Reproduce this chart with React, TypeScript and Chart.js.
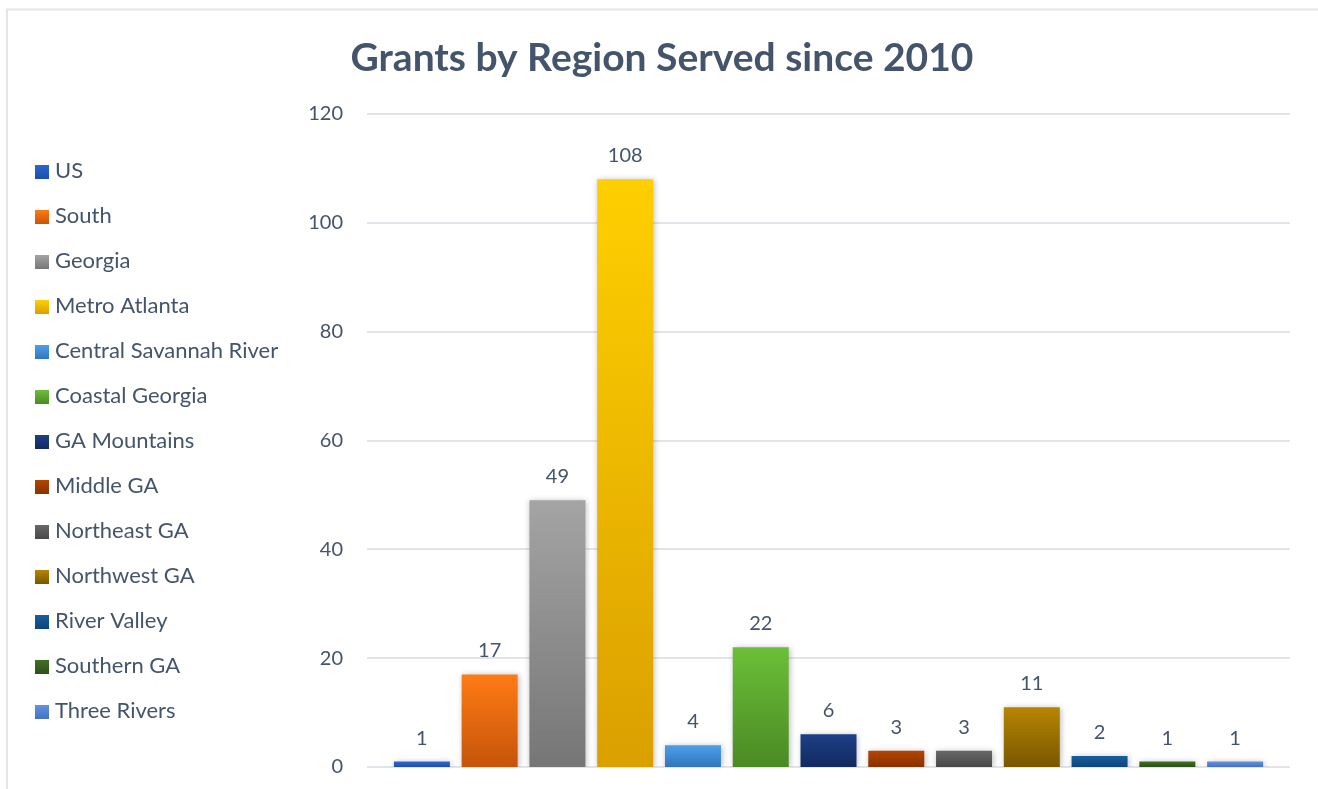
import React, { useEffect, useRef } from "react";
import { Chart, registerables } from "chart.js";

Chart.register(...registerables);

const title = "Grants by Region Served since 2010";
const categories = [
  "US",
  "South",
  "Georgia",
  "Metro Atlanta",
  "Central Savannah River",
  "Coastal Georgia",
  "GA Mountains",
  "Middle GA",
  "Northeast GA",
  "Northwest GA",
  "River Valley",
  "Southern GA",
  "Three Rivers",
];
const grants = [1, 17, 49, 108, 4, 22, 6, 3, 3, 11, 2, 1, 1];
const topColors = [
  "#2d66d2", "#ff7b14", "#a4a4a4", "#ffcf00", "#4aa0ea", "#6cbf38", "#1d4088",
  "#b54500", "#686868", "#b78500", "#175fa2", "#407026", "#6292e2",
];
const bottomColors = [
  "#1e4ea6", "#c6540b", "#767676", "#daa000", "#3475bb", "#4a8a25", "#12295e",
  "#883100", "#484848", "#785700", "#0e4576", "#2d5019", "#4670c0",
];
const yMin = 0;
const yMax = 120;
const yStep = 20;

const TEXT = "#44546A";
const FONT = "Lato";

function gradientFor(c: CanvasRenderingContext2D, i: number, top: number, bottom: number) {
  const g = c.createLinearGradient(0, top, 0, bottom);
  g.addColorStop(0, topColors[i]);
  g.addColorStop(1, bottomColors[i]);
  return g;
}

const decorPlugin = {
  id: "decor",
  beforeDraw(chart: any) {
    const c = chart.ctx as CanvasRenderingContext2D;
    c.save();
    c.fillStyle = "#ffffff";
    c.fillRect(0, 0, chart.width, chart.height);
    // chart frame
    c.strokeStyle = "#e2e6ea";
    c.lineWidth = 2;
    c.beginPath();
    c.moveTo(7, chart.height);
    c.lineTo(7, 9.5);
    c.lineTo(chart.width, 9.5);
    c.stroke();
    // title
    c.fillStyle = TEXT;
    c.font = `bold 39px ${FONT}`;
    c.textAlign = "center";
    c.textBaseline = "alphabetic";
    c.fillText(title, 662, 71);
    // gridlines, extended past the category area
    const y = chart.scales.y;
    const area = chart.chartArea;
    c.strokeStyle = "#e1e5ea";
    c.lineWidth = 2;
    for (const t of y.ticks) {
      const py = Math.round(y.getPixelForValue(t.value));
      c.beginPath();
      c.moveTo(area.left - 21, py);
      c.lineTo(area.right + 21, py);
      c.stroke();
    }
    // legend
    c.font = `22px ${FONT}`;
    c.textAlign = "left";
    c.textBaseline = "alphabetic";
    categories.forEach((name, i) => {
      const base = 178 + 45 * i;
      const boxTop = base - 13;
      c.fillStyle = gradientFor(c, i, boxTop, boxTop + 14);
      c.fillRect(35, boxTop, 14, 14);
      c.fillStyle = TEXT;
      c.fillText(name, 55, base);
    });
    c.restore();
  },
  beforeDatasetsDraw(chart: any) {
    const c = chart.ctx as CanvasRenderingContext2D;
    c.save();
    c.shadowColor = "rgba(0,0,0,0.28)";
    c.shadowBlur = 6;
    c.shadowOffsetX = 1;
    c.shadowOffsetY = 1;
  },
  afterDatasetsDraw(chart: any) {
    const c = chart.ctx as CanvasRenderingContext2D;
    c.restore();
    c.save();
    c.fillStyle = TEXT;
    c.font = `20px ${FONT}`;
    c.textAlign = "center";
    c.textBaseline = "alphabetic";
    const meta = chart.getDatasetMeta(0);
    meta.data.forEach((bar: any, i: number) => {
      c.fillText(String(grants[i]), bar.x, bar.y - 17);
    });
    c.restore();
  },
};

export default function App() {
  const ref = useRef<HTMLCanvasElement>(null);
  useEffect(() => {
    if (!ref.current) return;
    const chart = new Chart(ref.current, {
      type: "bar",
      data: {
        labels: categories,
        datasets: [
          {
            label: "Grants",
            data: grants,
            borderWidth: 0,
            categoryPercentage: 1,
            barPercentage: 0.826,
            backgroundColor: (ctx: any) => {
              const i = ctx.dataIndex ?? 0;
              const chart = ctx.chart;
              const y = chart.scales?.y;
              if (!y || !chart.chartArea) return topColors[i];
              const top = y.getPixelForValue(grants[i]);
              const base = y.getPixelForValue(0);
              return gradientFor(chart.ctx, i, top, base);
            },
          },
        ],
      },
      plugins: [decorPlugin],
      options: {
        responsive: false,
        animation: false,
        devicePixelRatio: 1,
        layout: { padding: { left: 268, right: 49, top: 114, bottom: 22 } },
        plugins: {
          legend: { display: false },
          title: { display: false },
          tooltip: { enabled: false },
        },
        scales: {
          x: { display: false },
          y: {
            min: yMin,
            max: yMax,
            grid: { display: false, drawTicks: false },
            border: { display: false },
            ticks: {
              stepSize: yStep,
              padding: 45,
              color: TEXT,
              font: { family: FONT, size: 20 },
            },
            afterFit: (scale: any) => {
              scale.width = 120;
              scale.paddingTop = 0;
              scale.paddingBottom = 0;
            },
          },
        },
      },
    });
    return () => chart.destroy();
  }, []);
  return (
    <div style={{ position: "fixed", left: 0, top: 0, width: 1318, height: 789, background: "#fff" }}>
      <canvas ref={ref} width={1318} height={789} style={{ display: "block" }} />
    </div>
  );
}
